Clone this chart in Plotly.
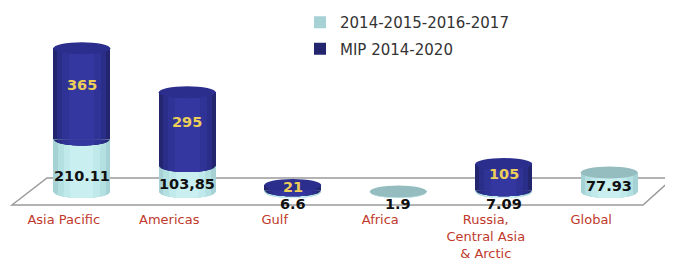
import numpy as np
import plotly.graph_objects as go

# ---- data ----
categories = ["Asia Pacific", "Americas", "Gulf", "Africa", "Russia,<br>Central Asia<br>& Arctic", "Global"]
series_names = ["2014-2015-2016-2017", "MIP 2014-2020"]
v_light = [210.11, 103.85, 6.6, 1.9, 7.09, 77.93]
v_dark = [365, 295, 21, 0, 105, 0]
light_text = ["210.11", "103,85", "6.6", "1.9", "7.09", "77.93"]
dark_text = ["365", "295", "21", "", "105", ""]

# ---- style ----
W_FIG, H_FIG = 673, 262
OFF = 8                # page body margin of the browser
M_L, M_R, M_T, M_B = 21, 19, 2, 60
PX_PER_UNIT = 0.25
BASE_PX = 192 - OFF    # pixel row of value 0 (figure coordinates)
BAR_W = 0.54
CAP_PX = 6             # half height of the elliptic caps, pixels
plot_h = H_FIG - M_T - M_B
y_lo = -(H_FIG - M_B - BASE_PX) / PX_PER_UNIT
y_hi = y_lo + plot_h / PX_PER_UNIT
E = CAP_PX / PX_PER_UNIT

light_layers = [(1.00, "#a6d2d5"), (0.84, "#b4e0e2"), (0.64, "#c0e9eb"), (0.40, "#c9eff1")]
dark_layers = [(1.00, "#23266f"), (0.86, "#2b2e88"), (0.68, "#303396"), (0.44, "#34379f")]
light_cap = "#95bcbf"
dark_cap = "#2b2e8c"

x = list(range(len(categories)))
fig = go.Figure()

for k, (f, col) in enumerate(light_layers):
    fig.add_trace(go.Bar(
        x=x, y=v_light, width=BAR_W * f, marker=dict(color=col, line=dict(width=0)),
        name=series_names[0], showlegend=(k == 0), legendgroup="a",
        hoverinfo="skip" if k else None))
for k, (f, col) in enumerate(dark_layers):
    fig.add_trace(go.Bar(
        x=x, y=v_dark, base=v_light, width=BAR_W * f,
        marker=dict(color=col, line=dict(width=0)),
        name=series_names[1], showlegend=(k == 0), legendgroup="b",
        hoverinfo="skip" if k else None))


def lower_half(cx, yc, f):
    half = BAR_W * f / 2
    dx = np.linspace(-half, half, 25)
    yl = yc - E * np.sqrt(np.clip(1 - (2 * dx / BAR_W) ** 2, 0, 1))
    pts = [(cx + a, b) for a, b in zip(dx, yl)] + [(cx + half, yc), (cx - half, yc)]
    return "M " + " L ".join(f"{a:.4f},{b:.3f}" for a, b in pts) + " Z"


def paper_x(px):
    return (px - OFF - M_L) / (W_FIG - M_L - M_R)


def paper_y(py):
    return (H_FIG - M_B - (py - OFF)) / plot_h


shapes = []
# floor (screen pixel corners)
floor = [(12, 205), (47, 178), (673, 178), (643, 205)]
path = "M " + " L ".join(f"{paper_x(a):.4f},{paper_y(b):.4f}" for a, b in floor) + " Z"
shapes.append(dict(type="path", path=path, xref="paper", yref="paper",
                   line=dict(color="#9a9a9a", width=1.5), layer="below"))

for i in x:
    for f, col in light_layers:
        shapes.append(dict(type="path", path=lower_half(i, 0, f), xref="x", yref="y",
                           fillcolor=col, line=dict(width=0), layer="above"))
    top = v_light[i] + v_dark[i]
    if v_dark[i] > 0:
        for f, col in dark_layers:
            shapes.append(dict(type="path", path=lower_half(i, v_light[i], f), xref="x", yref="y",
                               fillcolor=col, line=dict(width=0), layer="above"))
    shapes.append(dict(type="circle", xref="x", yref="y",
                       x0=i - BAR_W / 2, x1=i + BAR_W / 2, y0=top - E, y1=top + E,
                       fillcolor=dark_cap if v_dark[i] > 0 else light_cap,
                       line=dict(width=0), layer="above"))

lab_font = dict(family="DejaVu Sans", size=14.5, color="#111111", weight="bold")
annotations = []
for i in x:
    if v_light[i] > 50:
        annotations.append(dict(x=i, y=0.3 * v_light[i], text=light_text[i], showarrow=False,
                                xref="x", yref="y", font=lab_font))
    else:
        annotations.append(dict(x=i, y=0, yshift=-12, text=light_text[i], showarrow=False,
                                xref="x", yref="y", font=lab_font))
    if v_dark[i] > 0:
        annotations.append(dict(x=i, y=v_light[i] + 0.6 * v_dark[i], text=dark_text[i], showarrow=False,
                                xref="x", yref="y",
                                font=dict(family="DejaVu Sans", size=14.5, color="#ecce58", weight="bold")))

fig.update_layout(
    width=W_FIG, height=H_FIG,
    margin=dict(l=M_L, r=M_R, t=M_T, b=M_B, autoexpand=False),
    barmode="overlay", bargap=0,
    paper_bgcolor="white", plot_bgcolor="rgba(0,0,0,0)",
    showlegend=True,
    legend=dict(x=paper_x(292 + OFF), y=1.02, xanchor="left", yanchor="top",
                font=dict(family="DejaVu Sans", size=15, color="#333333"),
                traceorder="grouped", tracegroupgap=4, bgcolor="rgba(0,0,0,0)",
                itemclick=False),
    shapes=shapes, annotations=annotations,
    xaxis=dict(range=[-0.5, len(categories) - 0.5], tickvals=x, ticktext=categories,
               showgrid=False, zeroline=False, showline=False, ticks="",
               automargin=False, ticklabelshift=-18,
               tickfont=dict(family="DejaVu Sans", size=13, color="#c0392b")),
    yaxis=dict(range=[y_lo, y_hi], visible=False, automargin=False),
)

fig.write_html("out.html")
